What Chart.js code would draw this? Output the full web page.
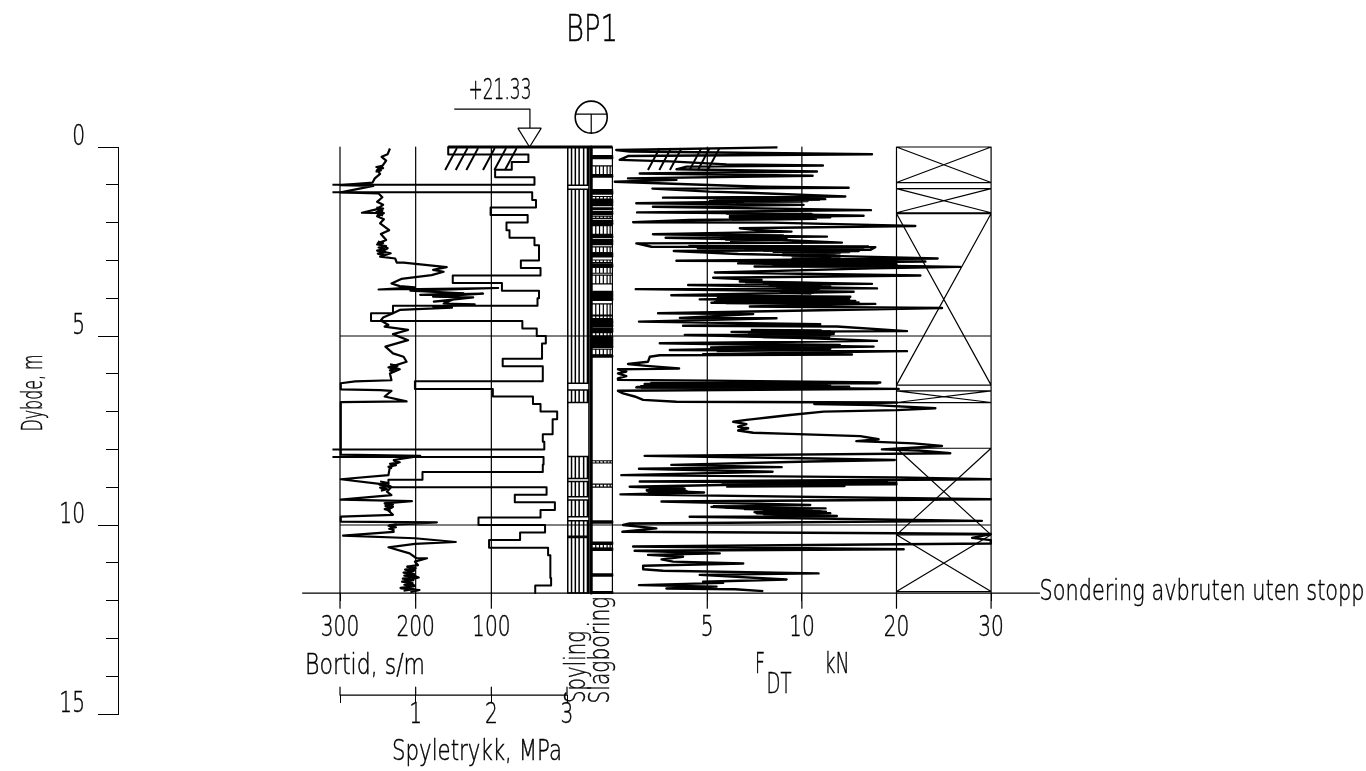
<!DOCTYPE html>
<html>
<head>
<meta charset="utf-8">
<title>BP1</title>
<script src="https://cdn.jsdelivr.net/npm/chart.js@4/dist/chart.umd.min.js"></script>
<style>
html, body { margin: 0; background: #fff; }
#wrap { width: 1366px; height: 771px; }
</style>
</head>
<body>
<div id="wrap"><canvas id="bp1"></canvas></div>
<script>
// tick labels
const depthTicks = [0, 5, 10, 15];
const bortidTicks = [300, 200, 100];
const trykkTicks = [0, 1, 2, 3];
const fdtTicks = [5, 10, 20, 30];

// spyletrykk MPa, one value per 0.2 m
const spyletrykk = [1.43, 2.49, 2.27, 2.05, 2.57, -0.1, 2.54, 2.59, 1.99, 2.48, 2.2, 2.24, 2.57, 2.63, 2.63,
    2.39, 2.65, 1.49, 2.14, 2.63, 2.61, 0.7, 0.41, 2.41, 2.6, 2.72, 2.67, 2.67, 2.15, 2.68, 2.68, 0.99, 2.02,
    2.55, 2.65, 2.87, 2.81, 2.81, 2.68, 2.7, -0.1, 2.69, 2.68, 1.09, 0.64, 2.73, 2.31, 2.84, 2.65, 1.83, 2.71,
    2.38, 1.97, 2.75, 2.78, 2.78, 2.78, 2.79, 2.58];

// bortid s/m against depth
const bortidDepth = [0.04, 0.19, 0.26, 0.36, 0.5, 0.61, 0.71, 0.83, 0.94, 1.01, 1.03, 1.2, 1.23, 1.33, 1.45, 1.53, 1.65,
    1.74, 1.75, 1.83, 1.91, 2.02, 2.2, 2.3, 2.46, 2.55, 2.68, 2.77, 2.81, 2.9, 2.95, 3.06, 3.06, 3.18, 3.25, 3.3, 3.39,
    3.49, 3.61, 3.68, 3.71, 3.77, 3.73, 3.8, 3.87, 3.91, 3.88, 3.96, 3.98, 4.09, 4.05, 4.14, 4.16, 4.22, 4.25, 4.31, 4.4,
    4.51, 4.59, 4.71, 4.75, 4.84, 4.95, 5.11, 5.28, 5.46, 5.55, 5.68, 5.81, 5.88, 5.99, 6.17, 6.2, 6.25, 6.41, 6.43, 6.45,
    6.6, 6.73, 6.75, 7.99, 8.14, 8.17, 8.28, 8.35, 8.46, 8.68, 8.79, 8.92, 8.99, 9.12, 9.21, 9.33, 9.37, 9.43, 9.52, 9.6,
    9.73, 9.78, 9.91, 9.93, 10, 10.18, 10.28, 10.35, 10.45, 10.5, 10.59, 10.75, 10.88, 10.88, 10.97, 11.06, 11.1, 11.19,
    11.28, 11.39, 11.48, 11.61, 11.68, 11.72, 11.78];
const bortidTid = [234, 237, 245, 239, 244, 251, 247, 254, 257, 299, 256, 299, 249, 244, 251, 243, 252,
    271, 243, 251, 242, 247, 235, 246, 239, 250, 237, 245, 233, 247, 227, 225, 216, 159, 177, 163, 179,
    219, 232, 221, 201, 249, 91, 207, 137, 194, 111, 177, 124, 176, 152, 163, 122, 177, 152, 221, 230,
    243, 246, 236, 241, 210, 230, 210, 240, 230, 216, 212, 232, 221, 234, 232, 280, 299, 299, 247, 232,
    241, 212, 299, 299, 299, 194, 229, 223, 234, 236, 299, 245, 232, 238, 232, 299, 205, 241, 230, 237,
    230, 299, 299, 172, 234, 229, 296, 201, 147, 201, 236, 208, 199, 185, 201, 197, 211, 201,
    211, 196, 214, 201, 219, 195, 207];
// the noisy stretches of bortid, null starts a new stretch
const bortidTettDepth = [0.5, 0.53, 0.56, 0.59, 0.62, 0.65, null, 1.6, 1.63, 1.66, 1.69, 1.72, 1.75, 1.78, 1.81, null,
    2.5, 2.54, 2.58, 2.62, 2.66, 2.7, 2.74, 2.78, 2.82, 2.86, null, 5.75, 5.79, 5.83, 5.87, 5.91, 5.95, null,
    8.3, 8.34, 8.38, 8.42, 8.46, 8.5, null, 8.85, 8.89, 8.93, 8.97, 9.01, 9.05, 9.09, null, 9.42, 9.46, 9.5, 9.54, 9.58, 9.62, null,
    9.98, 10.02, 10.06, 10.1, 10.14, null, 11.1, 11.14, 11.18, 11.22, 11.26, 11.3, 11.34, 11.38, 11.42, 11.46, 11.5, 11.54, 11.58, 11.62, 11.66, 11.7, 11.74];
const bortidTettTid = [244, 252, 243, 250, 246, 253, null, 252, 243, 250, 244, 252, 242, 250, 243, null,
    250, 243, 251, 239, 249, 241, 251, 240, 250, 242, null, 234, 224, 236, 226, 234, 228, null,
    229, 221, 234, 226, 236, 231, null, 247, 236, 248, 234, 247, 238, 246, null, 241, 230, 240, 232, 241, 233, null,
    225, 236, 226, 235, 228, null, 212, 200, 214, 203, 216, 202, 215, 198, 217, 203, 218, 204, 215, 203, 220, 202, 216];

// F_DT kN against depth
const fdtDepth = [0.01, 0.08, 0.12, 0.19, 0.24, 0.34, 0.38, 0.46, 0.49, 0.52, 0.59, 0.65, 0.7, 0.76, 0.83, 0.87, 0.92, 0.98,
    1.05, 1.08, 1.1, 1.18, 1.21, 1.31, 1.34, 1.38, 1.43, 1.45, 1.49, 1.53, 1.58, 1.67, 1.73, 1.75, 1.82, 1.86, 1.9, 1.93,
    1.99, 2, 2.09, 2.15, 2.2, 2.24, 2.31, 2.37, 2.4, 2.46, 2.53, 2.55, 2.64, 2.65, 2.72, 2.75, 2.83, 2.88, 2.95, 3.01,
    3.03, 3.08, 3.17, 3.21, 3.32, 3.4, 3.46, 3.52, 3.56, 3.62, 3.65, 3.74, 3.76, 3.83, 3.92, 3.96, 4.03, 4.07, 4.12, 4.15,
    4.22, 4.26, 4.4, 4.42, 4.52, 4.53, 4.62, 4.69, 4.73, 4.75, 4.87, 4.89, 4.95, 4.97, 5.06, 5.13, 5.19, 5.28, 5.37, 5.4,
    5.48, 5.49, 5.51, 5.55, 5.68, 5.74, 5.79, 5.86, 5.88, 5.94, 5.99, 6.06, 6.12, 6.16, 6.18, 6.23, 6.27, 6.3, 6.36, 6.38,
    6.4, 6.45, 6.52, 6.6, 6.69, 6.74, 6.76, 6.8, 6.83, 6.91, 6.96, 7, 7.09, 7.15, 7.2, 7.22, 7.27, 7.33, 7.4, 7.44,
    7.5, 7.56, 7.59, 7.65, 7.73, 7.78, 7.8, 7.84, 7.91, 7.95, 8, 8.03, 8.1, 8.17, 8.24, 8.28, 8.32, 8.41, 8.47, 8.51,
    8.59, 8.68, 8.74, 8.79, 8.85, 8.88, 8.91, 8.94, 8.99, 9.03, 9.09, 9.12, 9.14, 9.19, 9.32, 9.38, 9.47, 9.52, 9.58, 9.65,
    9.69, 9.76, 9.78, 9.89, 9.96, 10, 10.09, 10.18, 10.22, 10.24, 10.34, 10.4, 10.49, 10.57, 10.64, 10.68, 10.75, 10.79, 10.84, 10.91,
    10.97, 11.02, 11.08, 11.17, 11.21, 11.28, 11.32, 11.44, 11.5, 11.53, 11.59, 11.63, 11.68, 11.7, 11.75];
const fdtKn = [8.71, 0.19, 0.9, 17.41, 0.81, 0.37, 3.02, 6.02, 12.22, 3.9, 3.37, 11.59, 1.43, 11.13, 0.81, 3.37, 0.11, 3.55,
    7.87, 14.94, 2.1, 5.13, 7.16, 14.59, 2.66, 12.47, 5.13, 6.9, 1.25, 10.18, 2.13, 17.3, 1.29, 5.84, 16.52, 6.19, 11.23, 4.07,
    1.08, 8.4, 21.99, 6.72, 7.6, 9.45, 2.13, 12.65, 2.8, 8.93, 14.23, 1.25, 2.05, 17.76, 17.23, 3.23, 6.63, 13, 24.35, 3.37,
    23.05, 6.63, 26.75, 17.41, 5.4, 22.52, 5.31, 7.87, 6.72, 17.41, 3.99, 17.94, 1.22, 15.47, 3.1, 15.12, 4.6, 15.64, 5.22, 17.76,
    7.25, 24.81, 2.4, 7.43, 3.55, 8.66, 1.39, 11.94, 3.72, 13.7, 21.11, 6.28, 13.35, 3.81, 11.06, 17.94, 2.49, 17.58, 3.02, 21.11,
    4.78, 15.29, 2.49, 1.96, 1.87, 0.81, 1.78, 3.51, 0.28, 0.72, 0.28, 0.72, 0.28, 0.28, 5.1, 18.29, 1.69, 12.65, 1.25, 12.65,
    20.23, 0.28, 0.55, 1.16, 1.61, 3.37, 20.05, 11.31, 17.76, 24.11, 20.05, 12.29, 9.37, 8.31, 7.43, 7.07, 6.37, 7.07, 6.63, 7.16,
    6.63, 7.43, 9.37, 16.17, 18.11, 15.75, 17.94, 21.82, 24.81, 22.17, 18.46, 22.34, 25.69, 1.69, 11.59, 19.82, 10.88, 3.1, 8.93, 1.39,
    8.45, 0.46, 20.05, 29.97, 1.43, 19.98, 14.59, 5.75, 0.9, 3.72, 1.82, 3.72, 4.83, 0.41, 29.97, 2.58, 10.88, 5.22, 7.51, 12.54,
    7.6, 13.7, 4.07, 29.02, 0.9, 0.55, 2.31, 0.51, 20.05, 29.97, 27.99, 29.97, 29.97, 1.08, 20.76, 1.16, 5.66, 1.87, 3.72, 2.58,
    3.19, 6.9, 1.61, 1.61, 2.66, 11.76, 4.6, 9.19, 4.78, 5.84, 1.39, 5.49, 2.84, 6.46, 7.96];
// the dense bands of F_DT, null starts a new band
const fdtTettDepth = [1.36, 1.37, 1.39, 1.4, 1.41, 1.43, 1.44, 1.45, 1.47, null,
    1.76, 1.77, 1.79, 1.8, 1.82, 1.83, 1.85, 1.86, 1.88, 1.9, 1.92, null,
    2.33, 2.34, 2.36, 2.37, 2.39, 2.4, 2.42, 2.43, 2.45, 2.46, 2.48, null,
    2.62, 2.63, 2.65, 2.66, 2.68, 2.69, 2.71, 2.72, 2.74, 2.75, 2.77, 2.78, 2.8, 2.81, 2.83, 2.84, 2.86, 2.87, 2.89, 2.9, null,
    2.9, 2.92, 2.93, 2.95, 2.96, 2.98, 3, 3.02, 3.04, 3.06, 3.08, 3.1, 3.12, 3.14, 3.16, 3.17, null,
    3.58, 3.6, 3.61, 3.63, 3.64, 3.66, 3.67, 3.69, 3.7, 3.72, 3.73, 3.75, 3.76, 3.78, 3.8, 3.82, 3.83, 3.85, 3.86, 3.88, null,
    3.98, 3.99, 4.01, 4.02, 4.04, 4.05, 4.07, 4.08, 4.1, 4.11, 4.13, 4.14, null,
    4.84, 4.85, 4.87, 4.88, 4.9, 4.91, 4.93, 4.94, 4.96, 4.97, 4.99, 5, 5.01, 5.02, 5.03, 5.04, null,
    5.2, 5.24, 5.3, 5.34, 5.4, null,
    6.24, 6.25, 6.26, 6.27, 6.28, 6.29, 6.3, 6.32, 6.33, 6.34, 6.35, 6.36, 6.38, null,
    8.84, 8.85, 8.86, 8.87, 8.88, 8.9, 8.91, 8.92, 8.94, 8.95, 8.96, 8.97, 8.98, null,
    9.03, 9.04, 9.05, 9.07, 9.08, 9.1, 9.12, 9.13, null,
    9.5, 9.52, 9.54, 9.56, 9.58, 9.6, 9.62, 9.64, 9.66, 9.69, 9.72, 9.76];
const fdtTettKn = [5.3, 12.2, 5.5, 11.8, 6, 10.6, 5.5, 10, 6.5, null,
    6, 11, 6.3, 11.2, 6.2, 12, 6.5, 13, 7, 11.5, 6.3, null,
    5.7, 9, 5.9, 8.8, 6, 9.2, 5.7, 9, 6, 8.8, 6.2, null,
    4, 17, 5, 16.5, 4.5, 16, 7, 15, 8, 16, 8.5, 15, 9, 14, 9.5, 13.5, 9, 13, 9.5, 12.5, null,
    10, 13, 10.5, 14, 9.5, 18, 9, 20, 10, 16, 8, 20, 8.5, 17, 7.5, 23, null,
    7, 11.5, 8, 12, 8.5, 12, 8.3, 13, 9, 12.5, 8.7, 11.8, 9, 11.5, 9.2, 11.5, 8.9, 11.2, 9, 11, null,
    5.5, 14, 5.6, 15, 5.5, 14.5, 6, 15.5, 5.4, 16, 6, 15, null,
    7.3, 12, 7.5, 13, 7.8, 13.4, 8, 11.5, 7.2, 13, 7.5, 11, 7.3, 11.5, 8, 13, null,
    5, 14, 5.2, 13, 5.5, null,
    2, 18, 2, 13, 1.8, 12.5, 1.7, 13, 1.5, 15, 1.3, 12.5, 1.5, null,
    5.8, 19, 6, 14.6, 5.8, 15, 5.9, 20, 6, 14, 6.3, 14.5, 6, null,
    1.9, 3.8, 2, 3.7, 1.8, 3.9, 1.9, 3.8, null,
    5.3, 7.5, 6, 12.5, 7, 11, 8, 12, 7.5, 13, 8, 11];

// depth intervals of the columns, m
const spylingFrom = [0, 1.12, 6.43, 8.19, 8.85, 9.34, 9.89, 10.33];
const spylingTo = [1.01, 6.25, 6.76, 8.77, 9.25, 9.78, 10.3, 11.8];
const slagSolidFrom = [0.24, 0.74, 1.14, 1.4, 1.62, 1.71, 1.95, 2.33, 2.46, 2.81, 3.1, 3.83, 4.58, 4.8, 5.02, 5.52, 9.9, 10.46, 10.62, 11.3, 11.77];
const slagSolidTo = [0.3, 0.79, 1.24, 1.54, 1.64, 1.77, 2.04, 2.39, 2.57, 2.9, 3.17, 4.05, 4.74, 4.89, 5.3, 5.55, 9.94, 10.5, 10.66, 11.34, 11.8];
const slagStripeFrom = [0.5, 1.31, 1.83, 2.08, 2.64, 2.99, 3.18, 3.39, 4.15, 4.47, 4.91, 5.35, 8.3, 8.92, 10.5];
const slagStripeTo = [0.74, 1.38, 1.89, 2.31, 2.8, 3.06, 3.34, 3.62, 4.45, 4.54, 5, 5.5, 8.36, 9, 10.62];
const crossFrom = [0, 1.1, 1.76, 6.45, 7.97, 10.26];
const crossTo = [0.94, 1.74, 6.3, 6.76, 10.26, 11.76];

// terrain hatch, in MPa along the lower edge
const hatchStart = [1.39, 1.53, 1.67, 1.89, 2.04, 2.18, 4.07, 4.22, 4.36, 4.62, 4.73, 4.86];

const FONT = '"DejaVu Sans"';
const WEIGHT = 200;
const INK = '#000';

const fdtSlot = f => f <= 10 ? f / 5 : 2 + (f - 10) / 10;
const gap = { x: NaN, y: NaN };

function seg(x0, y0, x1, y1) {
    return [{ x: x0, y: y0 }, { x: x1, y: y1 }, gap];
}

function series(data, axis, width) {
    return { data: data, xAxisID: axis, yAxisID: 'y', showLine: true, borderColor: '#000', backgroundColor: '#000',
        borderWidth: width, borderJoinStyle: 'round', pointRadius: 0, tension: 0, clip: false };
}

function pairs(xs, ys, conv) {
    return xs.map((v, i) => v === null ? gap : { x: conv(v), y: ys[i] });
}

// stair line for spyletrykk, values below zero run off the frame with no closing edge
const trykkLine = [];
spyletrykk.forEach((p, i) => {
    const d0 = +(i * 0.2).toFixed(1), d1 = +((i + 1) * 0.2).toFixed(1);
    trykkLine.push({ x: p, y: d0 });
    if (p < 0) trykkLine.push(gap);
    trykkLine.push({ x: p, y: d1 });
});

const same = v => v;
const bortidLine = pairs(bortidTid, bortidDepth, same);
const bortidTett = pairs(bortidTettTid, bortidTettDepth, same);
const fdtLine = pairs(fdtKn, fdtDepth, fdtSlot);
const fdtTett = pairs(fdtTettKn, fdtTettDepth, fdtSlot);

// thin frame lines, on the MPa axis
const COL_A = 3.01, COL_M = 3.29, COL_B = 3.32, COL_C = 3.6, GRID_END = 12.2, LAST = 11.8;
let frame = [];
[0, 1, 2].forEach(p => { frame = frame.concat(seg(p, 0, p, GRID_END)); });
frame = frame.concat(seg(COL_C, 0, COL_C, LAST));
frame = frame.concat(seg(-0.5, LAST, 9.25, LAST));
frame = frame.concat(seg(0, 5, 8.6, 5), seg(0, 10, 8.6, 10));
// pressure scale
frame = frame.concat(seg(0, 14.5, 3, 14.5));
trykkTicks.forEach(p => { frame = frame.concat(seg(p, 14.29, p, 14.5)); });
// level marker
frame = frame.concat(seg(1.51, -1, 2.51, -1), seg(2.51, -1, 2.51, -0.5));
frame = frame.concat(seg(2.35, -0.5, 2.66, -0.5), seg(2.35, -0.5, 2.505, 0), seg(2.66, -0.5, 2.505, 0));
// symbol in the circle
frame = frame.concat(seg(3.11, -0.87, 3.53, -0.87), seg(3.32, -0.87, 3.32, -0.38));

let fdtFrame = [];
fdtTicks.forEach(f => { fdtFrame = fdtFrame.concat(seg(fdtSlot(f), 0, fdtSlot(f), GRID_END)); });
fdtFrame = fdtFrame.concat(seg(fdtSlot(20), 0, fdtSlot(30), 0));
crossFrom.forEach((d0, i) => {
    const d1 = crossTo[i];
    const a = fdtSlot(20), b = fdtSlot(30);
    fdtFrame = fdtFrame.concat(seg(a, d0, b, d1), seg(b, d0, a, d1), seg(a, d0, b, d0), seg(a, d1, b, d1));
});

let hatch = [];
hatchStart.forEach(p => { hatch = hatch.concat(seg(p, 0.61, p + 0.155, 0.03)); });

// spyling column
let spyling = seg(COL_A, 0, COL_A, LAST).concat(seg(COL_M, 0, COL_M, LAST));
spylingFrom.forEach((d0, i) => {
    [3.06, 3.11, 3.16, 3.22, 3.27].forEach(p => {
        spyling = spyling.concat(seg(p, d0, p, spylingTo[i]));
    });
    spyling = spyling.concat(seg(COL_A, d0, COL_M, d0), seg(COL_A, spylingTo[i], COL_M, spylingTo[i]));
});

// slagboring column
let slagSolid = [];
slagSolidFrom.forEach((d0, i) => {
    for (let d = d0; d < slagSolidTo[i]; d += 0.035) {
        slagSolid.push({ x: COL_B, y: d }, { x: COL_C, y: d });
    }
    slagSolid.push({ x: COL_C, y: slagSolidTo[i] }, { x: COL_B, y: slagSolidTo[i] }, gap);
});
let slagStripe = [];
slagStripeFrom.forEach((d0, i) => {
    const d1 = slagStripeTo[i];
    slagStripe = slagStripe.concat(seg(COL_B, d0, COL_C, d0), seg(COL_B, d1, COL_C, d1));
    [3.38, 3.43, 3.48, 3.53, 3.57].forEach(p => { slagStripe = slagStripe.concat(seg(p, d0, p, d1)); });
});

// free text, w is the width on the page so the wide font comes out narrow
const notes = [
    { t: 'BP1', x: 592, y: 31, s: 37, w: 52 },
    { t: '+21.33', x: 500, y: 92, s: 28, w: 63 },
    { t: 'Dybde, m', x: 35, y: 393, s: 28, w: 77, rot: -90 },
    { t: 'Bortid, s/m', x: 365, y: 667, s: 28, w: 120 },
    { t: 'Spyletrykk, MPa', x: 477, y: 753, s: 28, w: 170 },
    { t: 'Spyling', x: 578, y: 667, s: 28, w: 72, rot: -90 },
    { t: 'Slagboring', x: 602, y: 650, s: 28, w: 107, rot: -90 },
    { t: 'F', x: 760, y: 666, s: 28, w: 10 },
    { t: 'DT', x: 779, y: 686, s: 28, w: 25 },
    { t: 'kN', x: 837, y: 666, s: 28, w: 25 },
    { t: 'Sondering avbruten uten stopp', x: 1202, y: 593, s: 28, w: 325 }
];
const DIGIT_SQUEEZE = 0.72;

function putText(ctx, text, x, y, size, squeeze, align, rot) {
    ctx.save();
    ctx.translate(x, y);
    if (rot) ctx.rotate(rot * Math.PI / 180);
    ctx.scale(squeeze, 1);
    ctx.font = WEIGHT + ' ' + size + 'px ' + FONT;
    ctx.fillStyle = INK;
    ctx.strokeStyle = INK;
    ctx.lineWidth = 0.45;
    ctx.textAlign = align;
    ctx.textBaseline = 'middle';
    ctx.fillText(text, 0, 0);
    ctx.strokeText(text, 0, 0);
    ctx.restore();
}

const notesPlugin = {
    id: 'notes',
    afterDraw(chart) {
        const ctx = chart.ctx;
        const sc = chart.scales;
        notes.forEach(n => {
            ctx.font = WEIGHT + ' ' + n.s + 'px ' + FONT;
            const squeeze = n.w / ctx.measureText(n.t).width;
            putText(ctx, n.t, n.x, n.y, n.s, squeeze, 'center', n.rot);
        });
        // axis labels
        const rows = [['xBortid', LAST, 36], ['xFdt', LAST, 36], ['xTrykk', 14.5, 21]];
        rows.forEach(([id, depth, below]) => {
            const y = sc.y.getPixelForValue(depth) + below;
            sc[id].ticks.forEach(t => {
                if (t.label) putText(ctx, t.label, sc[id].getPixelForValue(t.value), y, 28, DIGIT_SQUEEZE, 'center');
            });
        });
        sc.y.ticks.forEach(t => {
            putText(ctx, t.label, sc.y.left + 85, sc.y.getPixelForValue(t.value) - 9, 28, DIGIT_SQUEEZE, 'right');
        });
        // ring above the columns
        ctx.beginPath();
        ctx.arc(sc.xTrykk.getPixelForValue(3.32), sc.y.getPixelForValue(-0.79), 16, 0, Math.PI * 2);
        ctx.lineWidth = 1.6;
        ctx.strokeStyle = '#000';
        ctx.stroke();
    }
};

function xAxis(min, max, reverse, yAt, tickVals, label) {
    return {
        type: 'linear', min: min, max: max, reverse: reverse, position: { y: yAt },
        border: { display: false },
        grid: { drawOnChartArea: false, drawTicks: true, tickLength: 8, color: INK, tickColor: INK },
        afterBuildTicks: s => { s.ticks = tickVals.map(v => ({ value: v })); },
        ticks: { display: false, autoSkip: false, maxRotation: 0, callback: label }
    };
}

new Chart(document.getElementById('bp1'), {
    type: 'scatter',
    data: {
        datasets: [
            series(frame, 'xTrykk', 1.2),
            series(fdtFrame, 'xFdt', 1.2),
            series(hatch, 'xTrykk', 2),
            series(spyling, 'xTrykk', 1.5),
            series(slagSolid, 'xTrykk', 2),
            series(slagStripe, 'xTrykk', 1.2),
            series(seg(COL_B, 0, COL_B, LAST), 'xTrykk', 3),
            series(seg(1.43, 0, COL_C, 0), 'xTrykk', 3),
            series(trykkLine, 'xTrykk', 2),
            series(bortidLine, 'xBortid', 2.2),
            series(bortidTett, 'xBortid', 2.2),
            series(fdtLine, 'xFdt', 2.4),
            series(fdtTett, 'xFdt', 2.4)
        ]
    },
    options: {
        responsive: true,
        maintainAspectRatio: false,
        animation: false,
        layout: { padding: { left: 0, top: 147, right: 326, bottom: 57 } },
        plugins: { legend: { display: false }, tooltip: { enabled: false } },
        scales: {
            y: {
                type: 'linear', min: 0, max: 15, reverse: true, position: 'left',
                afterFit: s => { s.width = 118; },
                border: { color: INK },
                grid: { drawOnChartArea: false, tickLength: 20, color: INK, tickColor: INK },
                afterBuildTicks: s => { s.ticks = depthTicks.map(v => ({ value: v })); },
                ticks: { display: false, autoSkip: false }
            },
            yMinor: {
                type: 'linear', axis: 'y', min: 0, max: 15, reverse: true, position: { xTrykk: -2.934 },
                border: { display: false },
                grid: { drawOnChartArea: false, tickLength: 12, color: INK, tickColor: INK },
                ticks: { stepSize: 1, autoSkip: false, display: false }
            },
            xBortid: xAxis(-625.1, 593.4, true, LAST, bortidTicks, v => String(v)),
            xTrykk: xAxis(-2.934, 9.251, false, 14.5, trykkTicks, v => v === 0 ? '' : String(v)),
            xFdt: xAxis(-5.229, 4.517, false, LAST, fdtTicks.map(fdtSlot), v => String(fdtTicks[[1, 2, 3, 4].indexOf(v)]))
        }
    },
    plugins: [notesPlugin]
});
</script>
</body>
</html>
